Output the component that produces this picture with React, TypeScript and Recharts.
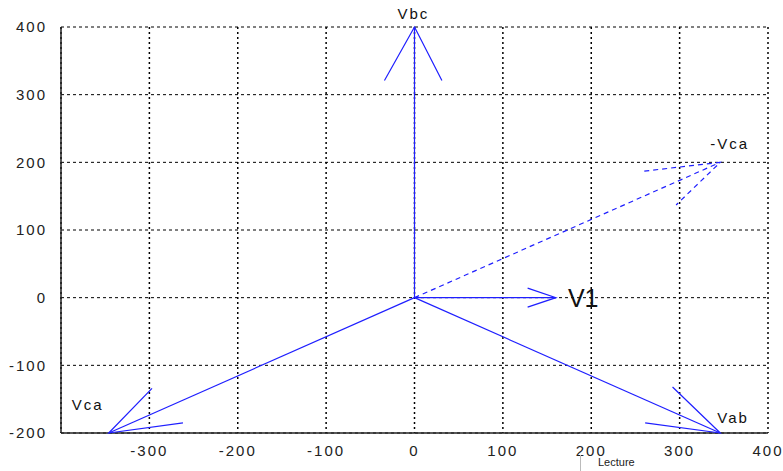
import React from "react";
import {
  ScatterChart,
  Scatter,
  XAxis,
  YAxis,
  CartesianGrid,
} from "recharts";

// phasor tips and arrowhead ends (volts)
const names = ["Vbc", "V1", "Vab", "Vca", "-Vca"];
const tipX = [0, 160, 346, -346, 346];
const tipY = [400, 0, -200, -200, 200];
const headAX = [-34, 128, 292, -297, 260];
const headAY = [321, 14, -132, -134, 187];
const headBX = [31, 128, 261, -262, 296];
const headBY = [321, -14, -185, -185, 137];

const xTicks = [-400, -300, -200, -100, 0, 100, 200, 300, 400];
const yTicks = [-200, -100, 0, 100, 200, 300, 400];

const BLUE = "#1f1fff";
const FONT = "'Liberation Sans', Arial, sans-serif";

// pixel offsets for the phasor names, relative to each tip
const labelStyle: Record<string, { dx: number; dy: number; size: number }> = {
  Vbc: { dx: -17, dy: -8, size: 15 },
  V1: { dx: 12, dy: 9, size: 25 },
  Vab: { dx: -3, dy: -10, size: 15 },
  Vca: { dx: -37, dy: -23, size: 15 },
  "-Vca": { dx: -10, dy: -13, size: 15 },
};

const NoDot = () => <g />;

const NameShape = (props: any) => {
  const { cx, cy, payload } = props;
  const s = labelStyle[payload.name];
  return (
    <text
      x={cx + s.dx}
      y={cy + s.dy}
      fontSize={s.size}
      fontFamily={FONT}
      letterSpacing={payload.name === "V1" ? 0 : 2}
      fill="#111"
    >
      {payload.name}
    </text>
  );
};

export default function App() {
  const shafts = names.map((n, i) => [
    { x: 0, y: 0 },
    { x: tipX[i], y: tipY[i] },
  ]);
  const heads = names.map((n, i) => [
    { x: headAX[i], y: headAY[i] },
    { x: tipX[i], y: tipY[i] },
    { x: headBX[i], y: headBY[i] },
  ]);
  const nameData = names.map((n, i) => ({ x: tipX[i], y: tipY[i], name: n }));

  const tickStyle = { fontSize: 15, fontFamily: FONT, fill: "#222", letterSpacing: 2 };

  return (
    <div style={{ position: "relative", width: 783, height: 471, overflow: "hidden", background: "#fff" }}>
      <style>{`body{margin:0}`}</style>
      <ScatterChart
        width={783}
        height={471}
        margin={{ top: 27, right: 15, bottom: 0, left: 0 }}
      >
        <CartesianGrid
          vertical={false}
          stroke="#000"
          strokeDasharray="3 3"
        />
        <CartesianGrid
          horizontal={false}
          stroke="#000"
          strokeDasharray="2 3"
          strokeWidth={1.5}
        />
        <XAxis
          type="number"
          dataKey="x"
          domain={[-400, 400]}
          ticks={xTicks}
          height={38}
          tickLine={false}
          axisLine={{ stroke: "#222", strokeWidth: 1.5 }}
          tick={tickStyle}
          tickFormatter={(v: number) => (v === -400 ? "" : String(v))}
          interval={0}
          tickMargin={6}
        />
        <YAxis
          type="number"
          dataKey="y"
          domain={[-200, 400]}
          ticks={yTicks}
          width={61}
          tickLine={false}
          axisLine={{ stroke: "#222", strokeWidth: 1.5 }}
          tick={tickStyle}
          interval={0}
          tickMargin={8}
        />
        {shafts.map((d, i) => (
          <Scatter
            key={"s" + i}
            data={d}
            line={{
              stroke: BLUE,
              strokeWidth: 1.2,
              strokeDasharray: names[i] === "-Vca" ? "5 4" : undefined,
            }}
            lineType="joint"
            shape={NoDot}
            isAnimationActive={false}
          />
        ))}
        {heads.map((d, i) => (
          <Scatter
            key={"h" + i}
            data={d}
            line={{
              stroke: BLUE,
              strokeWidth: 1.2,
              strokeDasharray: names[i] === "-Vca" ? "5 4" : undefined,
            }}
            lineType="joint"
            shape={NoDot}
            isAnimationActive={false}
          />
        ))}
        <Scatter data={nameData} shape={NameShape} isAnimationActive={false} />
      </ScatterChart>
      <div
        style={{
          position: "absolute",
          left: 580,
          top: 455,
          width: 1,
          height: 16,
          background: "#bbb",
        }}
      />
      <span
        style={{
          position: "absolute",
          left: 598,
          top: 456,
          fontSize: 11,
          fontFamily: FONT,
          color: "#222",
          lineHeight: "13px",
        }}
      >
        Lecture
      </span>
    </div>
  );
}
